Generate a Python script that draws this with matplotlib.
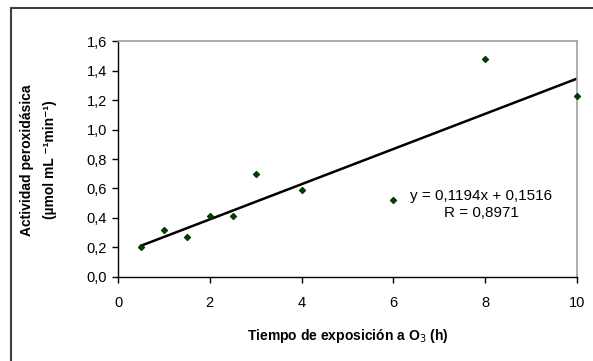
import matplotlib
matplotlib.use("Agg")
from matplotlib import pyplot as plt
from matplotlib.lines import Line2D
import numpy as np

tiempo = [0.5, 1, 1.5, 2, 2.5, 3, 4, 6, 8, 10]
actividad = [0.205, 0.315, 0.27, 0.415, 0.41, 0.695, 0.59, 0.52, 1.48, 1.23]

pendiente = 0.1194
intercepto = 0.1516
r_valor = "0,8971"

yticks = [0.0, 0.2, 0.4, 0.6, 0.8, 1.0, 1.2, 1.4, 1.6]
xticks = [0, 2, 4, 6, 8, 10]

plt.rcParams['font.family'] = ['Liberation Sans', 'DejaVu Sans']

fig = plt.figure(figsize=(5.93, 3.61), dpi=100)
ax = fig.add_axes([0.199, 0.233, 0.774, 0.653])

xs = np.array([min(tiempo), max(tiempo)])
ax.plot(xs, pendiente * xs + intercepto, color="black", lw=1.8, zorder=2)
ax.scatter(tiempo, actividad, marker="D", s=9, color="#003d00", zorder=3, clip_on=False)

ax.set_xlim(0, 10)
ax.set_ylim(0, 1.6)
ax.set_xticks(xticks)
ax.set_xticklabels([str(t) for t in xticks])
ax.set_yticks(yticks)
ax.set_yticklabels([f"{v:.1f}".replace(".", ",") for v in yticks])
ax.tick_params(direction="out", length=4, width=1, labelsize=10.5, pad=4)
ax.tick_params(axis="x", pad=10)

for s in ["top", "right"]:
    ax.spines[s].set_color("#a0a0a0")
    ax.spines[s].set_linewidth(1.2)
for s in ["left", "bottom"]:
    ax.spines[s].set_color("black")
    ax.spines[s].set_linewidth(1)

ax.set_xlabel("Tiempo de exposición a O$_3$ (h)", fontsize=10, fontweight="bold", labelpad=12)
fig.text(0.046, 0.557, "Actividad peroxidásica", rotation=90, fontsize=10,
         fontweight="bold", ha="center", va="center")
fig.text(0.084, 0.557, "(µmol mL ⁻¹min⁻¹)", rotation=90, fontsize=10,
         fontweight="bold", ha="center", va="center")

ax.text(0.792, 0.345, f"y = {pendiente:.4f}x + {intercepto:.4f}".replace(".", ","),
        transform=ax.transAxes, ha="center", va="center", fontsize=11)
ax.text(0.792, 0.27, f"R = {r_valor}", transform=ax.transAxes,
        ha="center", va="center", fontsize=11)

# outer frame (left and top edges visible)
fig.add_artist(Line2D([0.018, 0.018], [0, 0.978], color="#404040", lw=1.5))
fig.add_artist(Line2D([0.018, 1.0], [0.978, 0.978], color="#404040", lw=1.5))

fig.savefig("out.png", dpi=100)
